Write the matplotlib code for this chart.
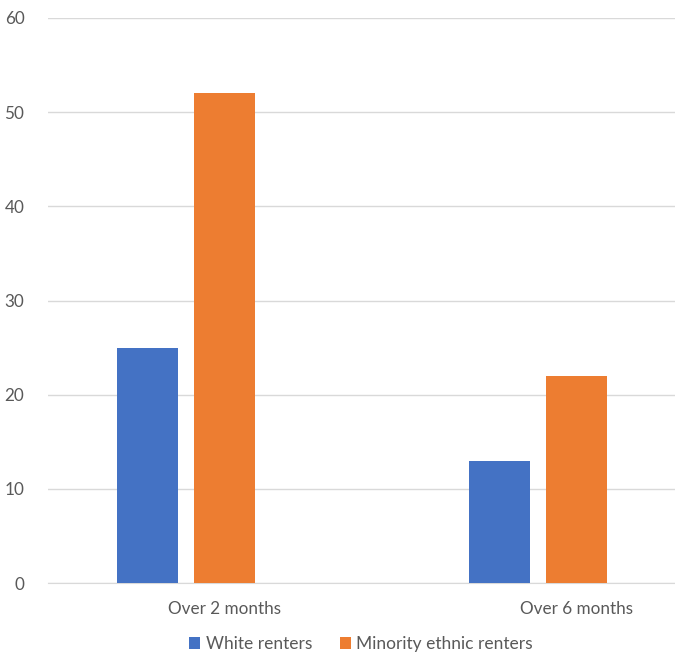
import matplotlib
matplotlib.use("Agg")
import matplotlib.pyplot as plt
import numpy as np

categories = ["Over 2 months", "Over 6 months"]
series_names = ["White renters", "Minority ethnic renters"]
white = [25, 13]
minority = [52, 22]
y_ticks = [0, 10, 20, 30, 40, 50, 60]

plt.rcParams["font.family"] = ["Lato", "DejaVu Sans"]
text_color = "#595959"

fig = plt.figure(figsize=(6.75, 6.54), dpi=100)
ax = fig.add_axes([48 / 675, 71 / 654, 627 / 675, 565 / 654])

x = np.arange(len(categories))
pitch = 77 / 352
width = 61 / 352
ax.bar(x - pitch, white, width, color="#4472C4", label=series_names[0], zorder=3)
ax.bar(x, minority, width, color="#ED7D31", label=series_names[1], zorder=3)

ax.set_xlim(-0.5, -0.5 + 627 / 352)
ax.set_ylim(0, 60)
ax.set_yticks(y_ticks)
ax.set_xticks(x)
ax.set_xticklabels(categories)
ax.grid(axis="y", color="#d9d9d9", linewidth=1, zorder=0)
for s in ["top", "right", "left"]:
    ax.spines[s].set_visible(False)
ax.spines["bottom"].set_color("#d9d9d9")
ax.tick_params(axis="both", length=0, colors=text_color, labelsize=12.3)
ax.tick_params(axis="y", pad=17)
ax.tick_params(axis="x", pad=13)

fig.legend(loc="center", bbox_to_anchor=(361 / 675, 10 / 654), ncol=2, frameon=False,
           fontsize=12.5, labelcolor=text_color, handlelength=0.65, handleheight=0.65,
           handletextpad=0.3, columnspacing=1.6)

fig.savefig("out.png", dpi=100)
